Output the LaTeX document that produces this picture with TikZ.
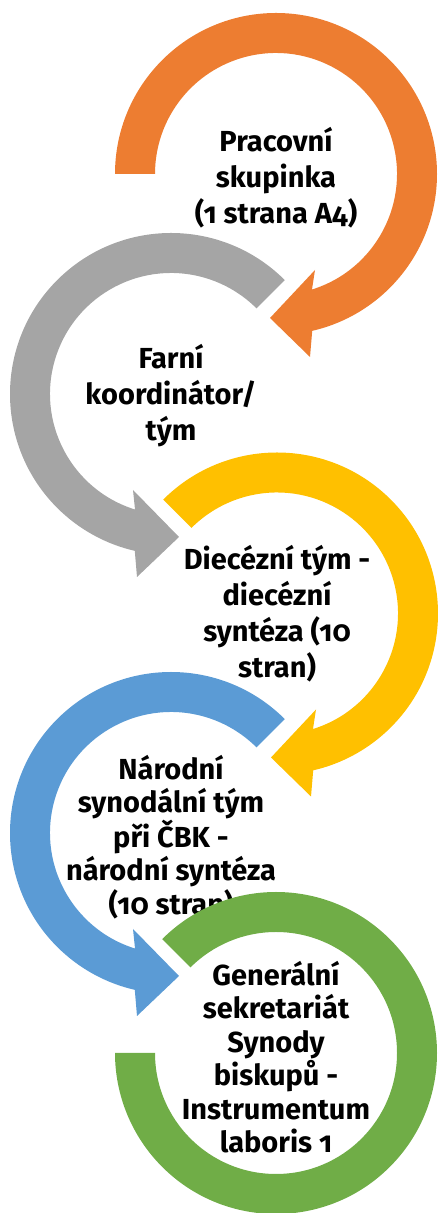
\documentclass[tikz,border=0pt]{standalone}
\usepackage{fontspec}
\setmainfont{Fira Sans}[Numbers=OldStyle]
\definecolor{stepOrange}{HTML}{ED7D31}
\definecolor{stepGray}{HTML}{A5A5A5}
\definecolor{stepYellow}{HTML}{FFC000}
\definecolor{stepBlue}{HTML}{5B9BD5}
\definecolor{stepGreen}{HTML}{70AD47}

\begin{document}
\begin{tikzpicture}[x=1pt,y=1pt]
\tikzstyle{every node}=[align=center,text=black,inner sep=0pt,font=\bfseries\fontsize{29}{36}\selectfont];
\tikzstyle{tight}=[font=\bfseries\fontsize{29}{33.5}\selectfont];
\useasboundingbox (0,0) rectangle (438,1213);
\coordinate (c1) at (276,1039);
\coordinate (c2) at (171,819);
\coordinate (c3) at (277,599.5);
\coordinate (c4) at (171,380);
\coordinate (c5) at (276,160);

% Pracovni skupinka
\fill[stepOrange] ([shift={(180:121)}]c1) -- ([shift={(180:161)}]c1) arc (180:-77:161)
	-- ([shift={(34,-183)}]c1) -- ([shift={(-6,-144)}]c1) -- ([shift={(39,-96)}]c1)
	-- ([shift={(-72.7:121)}]c1) arc (-72.7:180:121) -- cycle;
\node (t1) at ([yshift=-4]c1) {Pracovní\\skupinka\\(1 strana A4)};

% farni koordinator
\fill[stepGray] ([shift={(45:121)}]c2) -- ([shift={(45:161)}]c2) arc (45:257:161)
	-- ([shift={(-34,-183)}]c2) -- ([shift={(8,-143)}]c2) -- ([shift={(-38,-96)}]c2)
	-- ([shift={(252.7:121)}]c2) arc (252.7:45:121) -- cycle;
\node (t2) at ([yshift=-2]c2) {Farní\\koordinátor/\\tým};

% diecezni tym
\fill[stepYellow] ([shift={(135:121)}]c3) -- ([shift={(135:161)}]c3) arc (135:-77:161)
	-- ([shift={(34,-183)}]c3) -- ([shift={(-6,-144)}]c3) -- ([shift={(39,-96)}]c3)
	-- ([shift={(-72.7:121)}]c3) arc (-72.7:135:121) -- cycle;
\node (t3) at (c3) {Diecézní tým -\\diecézní\\syntéza (10\\stran)};

% narodni tym
\fill[stepBlue] ([shift={(45:121)}]c4) -- ([shift={(45:161)}]c4) arc (45:257:161)
	-- ([shift={(-34,-183)}]c4) -- ([shift={(8,-143)}]c4) -- ([shift={(-38,-96)}]c4)
	-- ([shift={(252.7:121)}]c4) arc (252.7:45:121) -- cycle;
\node[tight] (t4) at ([yshift=-4]c4) {Národní\\synodální tým\\při ČBK -\\národní syntéza\\(10 stran)};

% generalni sekretariat
\fill[stepGreen] ([shift={(135:121)}]c5) -- ([shift={(135:161)}]c5) arc (135:-180:161)
	-- ([shift={(180:121)}]c5) arc (-180:135:121) -- cycle;
\node[tight] (t5) at ([yshift=-4]c5) {Generální\\sekretariát\\Synody\\biskupů -\\Instrumentum\\laboris 1};
\end{tikzpicture}
\end{document}
